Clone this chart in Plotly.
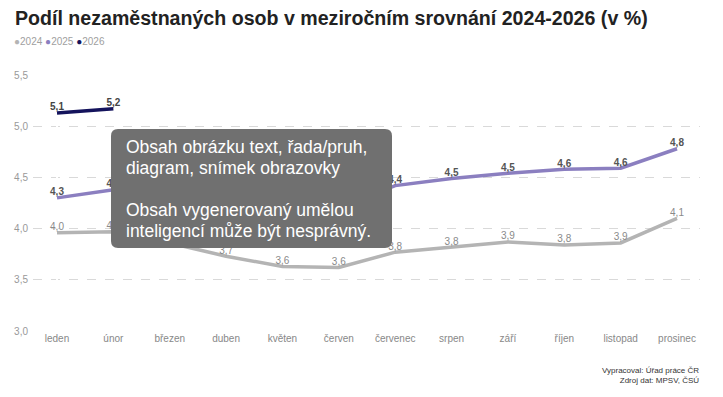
import plotly.graph_objects as go

months = ["leden", "únor", "březen", "duben", "květen", "červen", "červenec",
          "srpen", "září", "říjen", "listopad", "prosinec"]
v2024 = [3.96, 3.97, 3.86, 3.73, 3.63, 3.62, 3.77, 3.82, 3.87, 3.84, 3.86, 4.10]
v2025 = [4.30, 4.38, 4.32, 4.22, 4.13, 4.20, 4.42, 4.49, 4.54, 4.58, 4.59, 4.78]
v2026 = [5.13, 5.17]
series_names = ["2024", "2025", "2026"]
colors = ["#b4b4b4", "#8b7fc0", "#14135c"]
yticks = [3.0, 3.5, 4.0, 4.5, 5.0, 5.5]
overlay_lines = ["Obsah obrázku text, řada/pruh,", "diagram, snímek obrazovky", "",
                 "Obsah vygenerovaný umělou", "inteligencí může být nesprávný."]

OFF = 8  # page body margin
W, H = 723 - OFF, 397 - OFF
# plot area in reference pixels
PX0, PX1, PY0, PY1 = 33, 700, 75, 331
L, R, T, B = PX0 - OFF, W - (PX1 - OFF), PY0 - OFF, H - (PY1 - OFF)
PW, PH = PX1 - PX0, PY1 - PY0
# category placement: leden at x=57, prosinec at x=677
step = (677 - 57) / 11
xr = [-(57 - PX0) / step, 11 + (PX1 - 677) / step]

def lab(vals):
    return [f"{v:.1f}".replace(".", ",") for v in vals]

def px2paper(x, y):
    return (x - PX0) / PW, (PY1 - y) / PH

fig = go.Figure()
for name, vals, col, tcol, wt in [
    ("2024", v2024, colors[0], "#8a8a8a", "normal"),
    ("2025", v2025, colors[1], "#555555", "bold"),
    ("2026", v2026, colors[2], "#444444", "bold"),
]:
    fig.add_trace(go.Scatter(
        x=list(range(len(vals))), y=vals, name=name, mode="lines+text",
        line=dict(color=col, width=3.5),
        text=lab(vals), textposition="top center",
        textfont=dict(size=10, color=tcol, family="Liberation Sans", weight=wt),
        showlegend=False, cliponaxis=False,
    ))

# overlay box (rounded)
x0, y0, x1, y1, r = 111, 129, 392, 248, 7
def P(x, y):
    a, b = px2paper(x, y)
    return f"{a:.5f},{b:.5f}"
path = (f"M {P(x0+r,y0)} L {P(x1-r,y0)} Q {P(x1,y0)} {P(x1,y0+r)} "
        f"L {P(x1,y1-r)} Q {P(x1,y1)} {P(x1-r,y1)} L {P(x0+r,y1)} "
        f"Q {P(x0,y1)} {P(x0,y1-r)} L {P(x0,y0+r)} Q {P(x0,y0)} {P(x0+r,y0)} Z")
fig.add_shape(type="path", path=path, xref="paper", yref="paper",
              fillcolor="#707070", line=dict(width=0), layer="above")
for i, t in enumerate(overlay_lines):
    if not t:
        continue
    ax, ay = px2paper(124, 147 + 21 * i)
    fig.add_annotation(
        x=ax, y=ay, xref="paper", yref="paper", xanchor="left", yanchor="middle",
        align="left", showarrow=False, text=t,
        font=dict(size=17.5, color="white", family="Liberation Sans"),
    )

# legend as annotation
leg = " ".join(f'<span style="color:{c}">●</span>{n}' for n, c in zip(series_names, colors))
lx, ly = px2paper(12, 41)
fig.add_annotation(x=lx, y=ly, xref="paper", yref="paper", xanchor="left", yanchor="middle",
                   showarrow=False, text=leg,
                   font=dict(size=10, color="#a0a0a0", family="Liberation Sans"))

# source
sx, sy = px2paper(701, 364)
fig.add_annotation(x=sx, y=sy, xref="paper", yref="paper", xanchor="right", yanchor="top",
                   showarrow=False, align="right",
                   text="Vypracoval: Úřad práce ČR<br>Zdroj dat: MPSV, ČSÚ",
                   font=dict(size=8, color="#333333", family="Liberation Sans"))

fig.update_layout(
    width=W, height=H, margin=dict(l=L, r=R, t=T, b=B),
    paper_bgcolor="white", plot_bgcolor="white", separators=", ",
    title=dict(text="<b>Podíl nezaměstnaných osob v meziročním srovnání 2024-2026 (v %)</b>",
               x=(15 - OFF) / W, xanchor="left", y=1 - (18 - OFF) / H, yanchor="middle",
               font=dict(size=19.6, color="#222222", family="Liberation Sans")),
    xaxis=dict(showgrid=False, showline=False, ticks="", range=xr, automargin=False,
               tickvals=list(range(12)), ticktext=months,
               tickfont=dict(size=10, color="#888888", family="Liberation Sans")),
    yaxis=dict(range=[3.0, 5.5], tickvals=yticks, tickformat=".1f", automargin=False,
               showgrid=True, gridcolor="#d9d9d9", griddash="dash", gridwidth=1,
               zeroline=False, showline=False, ticks="", ticklabelstandoff=4,
               tickfont=dict(size=10, color="#999999", family="Liberation Sans")),
)
fig.write_html("out.html")
